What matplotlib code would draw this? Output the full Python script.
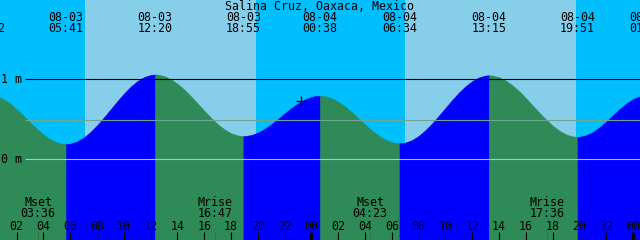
import numpy as np
import matplotlib
matplotlib.use("Agg")
import matplotlib.pyplot as plt

# tide curve, hours since 08-03 00:00 and height in m
curve_hours = [-0.133, 0, 0.5, 1, 1.5, 2, 2.5, 3, 3.5, 4, 4.5, 5, 5.25, 5.683,
               6, 6.5, 7, 7.5, 8, 8.5, 9, 9.5, 10, 10.5, 11, 11.5, 12, 12.333,
               12.5, 13, 13.5, 14, 14.5, 15, 15.5, 16, 16.5, 17, 17.5, 18, 18.5, 18.917,
               19, 19.5, 20, 20.5, 21, 21.5, 22, 22.5, 23, 23.5, 24, 24.3, 24.633,
               25, 25.5, 26, 26.5, 27, 27.5, 28, 28.5, 29, 29.5, 30, 30.3, 30.567,
               31, 31.5, 32, 32.5, 33, 33.5, 34, 34.5, 35, 35.5, 36, 36.5, 37, 37.25,
               37.5, 38, 38.5, 39, 39.5, 40, 40.5, 41, 41.5, 42, 42.5, 43, 43.4, 43.85,
               44, 44.5, 45, 45.5, 46, 46.5, 47, 47.5, 48, 48.5, 49.0]
curve_heights = [0.81, 0.809, 0.792, 0.753, 0.697, 0.626, 0.546, 0.462, 0.382, 0.309, 0.251, 0.211, 0.198, 0.19,
                 0.195, 0.222, 0.271, 0.341, 0.425, 0.522, 0.623, 0.725, 0.821, 0.907, 0.977, 1.027, 1.055, 1.06,
                 1.059, 1.041, 1.002, 0.944, 0.872, 0.788, 0.698, 0.606, 0.519, 0.440, 0.374, 0.326, 0.298, 0.29,
                 0.290, 0.303, 0.333, 0.380, 0.438, 0.504, 0.574, 0.641, 0.700, 0.748, 0.780, 0.791, 0.795,
                 0.789, 0.764, 0.720, 0.661, 0.590, 0.513, 0.435, 0.361, 0.297, 0.246, 0.213, 0.203, 0.20,
                 0.209, 0.240, 0.293, 0.364, 0.449, 0.544, 0.643, 0.742, 0.834, 0.914, 0.979, 1.024, 1.047, 1.05,
                 1.047, 1.026, 0.984, 0.924, 0.850, 0.765, 0.674, 0.583, 0.497, 0.420, 0.357, 0.311, 0.289, 0.28,
                 0.281, 0.300, 0.341, 0.401, 0.473, 0.552, 0.629, 0.699, 0.754, 0.788, 0.80]

# highs and lows
event_hours = [-0.133, 5.683, 12.333, 18.917, 24.633, 30.567, 37.25, 43.85, 49.0]
event_dates = ["", "08-03", "08-03", "08-03", "08-04", "08-04", "08-04", "08-04", "08-05"]
event_times = ["23:52", "05:41", "12:20", "18:55", "00:38", "06:34", "13:15", "19:51", "01:00"]

# moon events
moon_hours = [3.6, 16.783, 28.383, 41.6]
moon_names = ["Mset", "Mrise", "Mset", "Mrise"]
moon_times = ["03:36", "16:47", "04:23", "17:36"]

# daylight
sunrise_hours = [7.10, 30.98]
sunset_hours = [19.86, 43.74]

# current time mark
now_hour, now_height = 23.22, 0.723
msl_height = 0.49

PX_PER_H = 13.4
T_START = 0.754
TOP = 159.3 / 80


def xh(px):
    return T_START + px / PX_PER_H


def yp(py):
    return TOP - py / 80


NIGHT = "#00bfff"
DAY = "#87ceeb"
FLOOD = "#0000ff"
EBB = "#2e8b57"
FONT = dict(family="DejaVu Sans Mono", fontsize=8.4, color="black")

fig = plt.figure(figsize=(6.4, 2.4), dpi=100)
ax = fig.add_axes([0, 0, 1, 1])
x_end = xh(640)
ax.set_xlim(T_START, x_end)
ax.set_ylim(yp(240), TOP)
ax.axis("off")

ax.axvspan(-5, 60, color=NIGHT, lw=0, zorder=0)
for rise, sset in zip(sunrise_hours, sunset_hours):
    ax.axvspan(rise, sset, color=DAY, lw=0, zorder=0)

# falling tide green, rising tide blue
hrs = np.array(curve_hours)
hts = np.array(curve_heights)
for a, b in zip(event_hours[:-1], event_hours[1:]):
    m = (hrs >= a) & (hrs <= b)
    seg_h = hts[m]
    col = FLOOD if seg_h[-1] > seg_h[0] else EBB
    ax.fill_between(hrs[m], seg_h, yp(260), facecolor=col, edgecolor=col,
                    lw=0.4, zorder=1)

ax.hlines(1.0, xh(25), x_end, color="black", lw=0.8, zorder=2)
ax.hlines(msl_height, xh(25), x_end, color="#6fa595", lw=0.8, zorder=2)
ax.hlines(0.0, xh(25), x_end, color="#87d3ea", lw=0.8, zorder=2)
ax.text(xh(1), 1.0, "1 m", ha="left", va="center", **FONT)
ax.text(xh(1), 0.0, "0 m", ha="left", va="center", **FONT)

ax.plot(now_hour, now_height, marker="+", color="black", ms=7, mew=0.9, zorder=3)

ax.text(xh(320), yp(6), "Salina Cruz, Oaxaca, Mexico", ha="center", va="center", **FONT)
for t, d, s in zip(event_hours, event_dates, event_times):
    ax.text(t, yp(17.5), d, ha="center", va="center", **FONT)
    ax.text(t, yp(29), s, ha="center", va="center", **FONT)

for t, n, s in zip(moon_hours, moon_names, moon_times):
    ax.text(t, yp(202.5), n, ha="center", va="center", **FONT)
    ax.text(t, yp(213.5), s, ha="center", va="center", **FONT)
    ax.vlines(t, yp(240), yp(232), color="#3d6b4d", lw=0.8, zorder=2)

for h in range(2, 49, 2):
    ax.text(h, yp(226), "%02d" % (h % 24), ha="center", va="center", **FONT)
    lw = 2.2 if h % 24 == 0 else 0.8
    ax.vlines(h, yp(240), yp(232), color="black", lw=lw, zorder=2)

fig.savefig("out.png", dpi=100)
